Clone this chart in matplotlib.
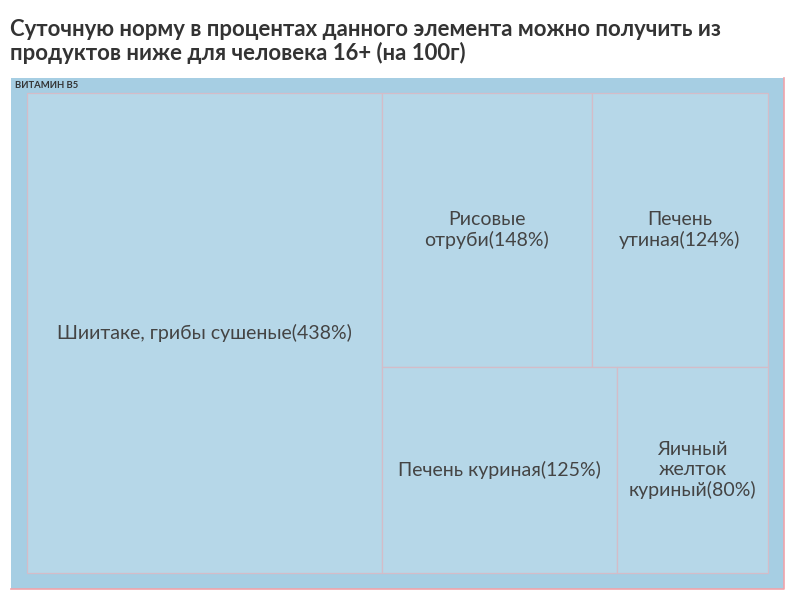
import matplotlib
matplotlib.use("Agg")
import matplotlib.pyplot as plt
from matplotlib.patches import Rectangle

# Data (percent of daily norm per 100 g)
names = ["Шиитаке, грибы сушеные", "Рисовые отруби", "Печень утиная",
         "Печень куриная", "Яичный желток куриный"]
values = [438, 148, 124, 125, 80]
labels = ["Шиитаке, грибы сушеные(438%)", "Рисовые\nотруби(148%)",
          "Печень\nутиная(124%)", "Печень куриная(125%)",
          "Яичный\nжелток\nкуриный(80%)"]
group_name = "ВИТАМИН B5"
title = ("Суточную норму в процентах данного элемента можно получить из\n"
         "продуктов ниже для человека 16+ (на 100г)")


def worst(row, side):
    s = sum(row)
    return max(max(side * side * r / (s * s), s * s / (side * side * r)) for r in row)


def squarify(vals, x, y, w, h):
    total = sum(vals)
    areas = [v * w * h / total for v in vals]
    rects = []
    i = 0
    while i < len(areas):
        side = min(w, h)
        row = [areas[i]]
        j = i + 1
        while j < len(areas) and worst(row + [areas[j]], side) <= worst(row, side):
            row.append(areas[j])
            j += 1
        s = sum(row)
        if w >= h:
            # column along the height
            cw = s / h
            cy = y
            for a in row:
                rh = a / cw
                rects.append((x, cy, cw, rh))
                cy += rh
            x += cw
            w -= cw
        else:
            rh = s / w
            cx = x
            for a in row:
                rw = a / rh
                rects.append((cx, y, rw, rh))
                cx += rw
            y += rh
            h -= rh
        i = j
    return rects


fig = plt.figure(figsize=(7.96, 6.0), dpi=100)
ax = fig.add_axes([0, 0, 1, 1])
ax.set_xlim(0, 796)
ax.set_ylim(600, 0)
ax.axis("off")

fig.text(10 / 796, 1 - 19 / 600, title, ha="left", va="top", fontsize=15.9,
         fontweight="bold", color="#333333", family="Lato", linespacing=1.12)

# outer group box
ox, oy, ow, oh = 11, 78, 773, 511
ax.add_patch(Rectangle((ox, oy), ow, oh, facecolor="#a6cee3", edgecolor="none"))
ax.plot([ox + ow, ox + ow, ox], [oy, oy + oh, oy + oh], color="#f0a3aa", lw=1.2)
ax.text(ox + 4, oy + 7.5, group_name, ha="left", va="center", fontsize=6.8,
        fontweight="bold", color="#333333", family="Lato")

ix, iy, iw, ih = 27, 93, 741, 480
for (x, y, w, h), lab in zip(squarify(values, ix, iy, iw, ih), labels):
    ax.add_patch(Rectangle((x, y), w, h, facecolor="#b6d7e8", edgecolor="#d4bcc8", lw=0.9))
    ax.text(x + w / 2, y + h / 2, lab, ha="center", va="center", fontsize=14,
            color="#444444", family="Lato", linespacing=1.2)

fig.savefig("out.png", dpi=100)
